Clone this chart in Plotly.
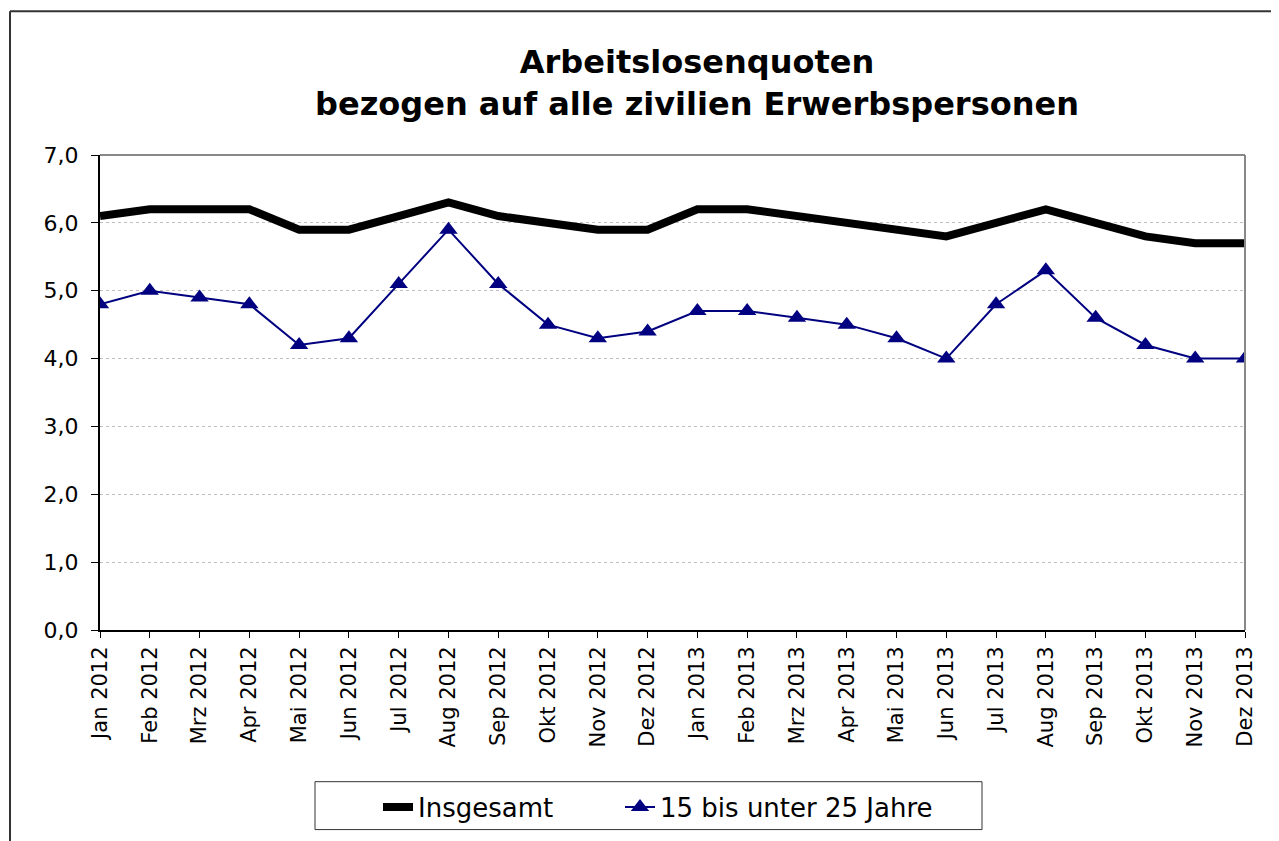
import plotly.graph_objects as go

months = ["Jan 2012", "Feb 2012", "Mrz 2012", "Apr 2012", "Mai 2012", "Jun 2012",
          "Jul 2012", "Aug 2012", "Sep 2012", "Okt 2012", "Nov 2012", "Dez 2012",
          "Jan 2013", "Feb 2013", "Mrz 2013", "Apr 2013", "Mai 2013", "Jun 2013",
          "Jul 2013", "Aug 2013", "Sep 2013", "Okt 2013", "Nov 2013", "Dez 2013"]
insgesamt = [6.1, 6.2, 6.2, 6.2, 5.9, 5.9, 6.1, 6.3, 6.1, 6.0, 5.9, 5.9,
             6.2, 6.2, 6.1, 6.0, 5.9, 5.8, 6.0, 6.2, 6.0, 5.8, 5.7, 5.7]
jugend = [4.8, 5.0, 4.9, 4.8, 4.2, 4.3, 5.1, 5.9, 5.1, 4.5, 4.3, 4.4,
          4.7, 4.7, 4.6, 4.5, 4.3, 4.0, 4.8, 5.3, 4.6, 4.2, 4.0, 4.0]
y_ticks = [0, 1, 2, 3, 4, 5, 6, 7]
y_labels = ["0,0", "1,0", "2,0", "3,0", "4,0", "5,0", "6,0", "7,0"]

FONT = "Verdana, DejaVu Sans, sans-serif"

fig = go.Figure()
fig.add_trace(go.Scatter(
    x=months, y=insgesamt, name="Insgesamt", mode="lines",
    line=dict(color="#000000", width=8), legend="legend",
))
fig.add_trace(go.Scatter(
    x=months, y=jugend, name="15 bis unter 25 Jahre", mode="lines+markers",
    line=dict(color="#000080", width=2),
    marker=dict(symbol="triangle-up", size=16, color="#000080"),
    legend="legend2",
))

# page body has an 8px margin: screen coords -> figure coords
OFF = 8
W, H = 1279 - OFF, 841 - OFF
PL, PR, PT, PB = 100, 1245, 155, 631          # plot area in screen px
L, R, T, B = PL - OFF, W - (PR - OFF), PT - OFF, H - (PB - OFF)
pw, ph = W - L - R, H - T - B

def px_x(sx):
    return (sx - OFF - L) / pw

def px_y(sy):
    return (H - B - (sy - OFF)) / ph

shapes = [
    # outer chart frame (left and top visible)
    dict(type="line", xref="paper", yref="paper", x0=px_x(10), x1=px_x(10),
         y0=px_y(11), y1=px_y(860), line=dict(color="#333333", width=2)),
    dict(type="line", xref="paper", yref="paper", x0=px_x(10), x1=px_x(1300),
         y0=px_y(11), y1=px_y(11), line=dict(color="#333333", width=2)),
    # plot area border top/right
    dict(type="line", xref="paper", yref="paper", x0=0, x1=1, y0=1, y1=1,
         line=dict(color="#888888", width=2)),
    dict(type="line", xref="paper", yref="paper", x0=1, x1=1, y0=0, y1=1,
         line=dict(color="#888888", width=2)),
    # legend box
    dict(type="rect", xref="paper", yref="paper", x0=px_x(315), x1=px_x(982),
         y0=px_y(831), y1=px_y(783), line=dict(color="#333333", width=1),
         fillcolor="white", layer="below"),
]

legend_common = dict(
    orientation="h", yanchor="middle", y=px_y(807),
    borderwidth=0, bgcolor="rgba(0,0,0,0)",
    font=dict(family=FONT, size=26, color="#000000"),
)

fig.update_layout(
    width=W, height=H,
    margin=dict(l=L, r=R, t=T, b=B),
    paper_bgcolor="white", plot_bgcolor="white",
    font=dict(family=FONT, color="#000000"),
    title=dict(
        text="<b>Arbeitslosenquoten<br>bezogen auf alle zivilien Erwerbspersonen</b>",
        x=(697 - OFF) / W, xanchor="center", y=1 - (73 - OFF) / H, yanchor="middle",
        font=dict(family=FONT, size=32, color="#000000"),
    ),
    showlegend=True,
    legend=dict(legend_common, x=px_x(378), xanchor="left"),
    legend2=dict(legend_common, x=px_x(620), xanchor="left"),
    xaxis=dict(
        type="category", range=[0, len(months) - 1],
        tickangle=-90, tickfont=dict(family=FONT, size=21),
        showline=True, linecolor="#000000", linewidth=2,
        ticks="outside", ticklen=6, tickcolor="#000000", tickwidth=1,
        showgrid=False, zeroline=False,
    ),
    yaxis=dict(
        range=[0, 7], tickvals=y_ticks, ticktext=y_labels,
        tickfont=dict(family=FONT, size=22), ticklabelstandoff=8,
        showline=True, linecolor="#000000", linewidth=2,
        ticks="outside", ticklen=7, tickcolor="#000000", tickwidth=1,
        showgrid=True, gridcolor="#c0c0c0", griddash="dot", gridwidth=1,
        zeroline=False,
    ),
    shapes=shapes,
)

fig.write_html("out.html")
